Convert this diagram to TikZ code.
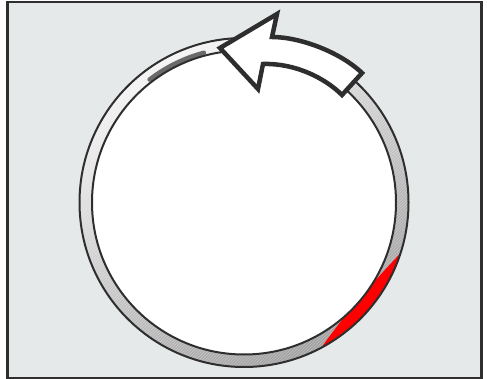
\documentclass[tikz,border=0pt]{standalone}
\usetikzlibrary{patterns}
\definecolor{bgpanel}{HTML}{E5E9EA}
\definecolor{inkdark}{HTML}{2E2E2E}
\definecolor{ringlight}{HTML}{F4F4F4}
\definecolor{ringdark}{HTML}{A0A0A0}
\definecolor{markgray}{HTML}{6A6A6A}
\tikzset{
  panel/.style={fill=bgpanel, draw=inkdark, line width=2.5pt},
  ringline/.style={draw=inkdark, line width=2pt},
  arrowbox/.style={fill=white, draw=inkdark, line width=4.5pt, line join=miter, miter limit=10},
}
\begin{document}
\begin{tikzpicture}[x=1pt,y=-1pt]
\useasboundingbox (0,0) rectangle (487,379);
\fill[white] (0,0) rectangle (487,379);
\draw[panel] (7.5,2) rectangle (481.5,378);
\coordinate (c) at (244,202.5);
% ring band
\shade[even odd rule, top color=ringlight, bottom color=ringdark, shading angle=30]
  (c) circle[radius=164.5] (c) circle[radius=152];
\fill[even odd rule, pattern=north east lines, pattern color=white, opacity=0.3]
  (c) circle[radius=164.5] (c) circle[radius=152];
% red segment
\fill[red] (c) ++(18:164.5) arc[start angle=18, end angle=62, radius=164.5]
  .. controls (344.4,315) and (372,283) .. cycle;
% dark mark near top-left
\draw[markgray, line width=4.5pt, line cap=round]
  (c) ++(-127.5:155) arc[start angle=-127.5, end angle=-105, radius=155];
% inner disc
\fill[white] (c) circle[radius=152];
\draw[ringline] (c) circle[radius=164.5];
\draw[ringline] (c) circle[radius=152];
% curved block arrow
\draw[arrowbox] (220,48) -- (277,14) -- (272,37)
  .. controls (300,37) and (340,52) .. (362,73)
  -- (342,95)
  .. controls (325,78) and (295,63) .. (263,64)
  -- (258,89) -- cycle;
\end{tikzpicture}
\end{document}
